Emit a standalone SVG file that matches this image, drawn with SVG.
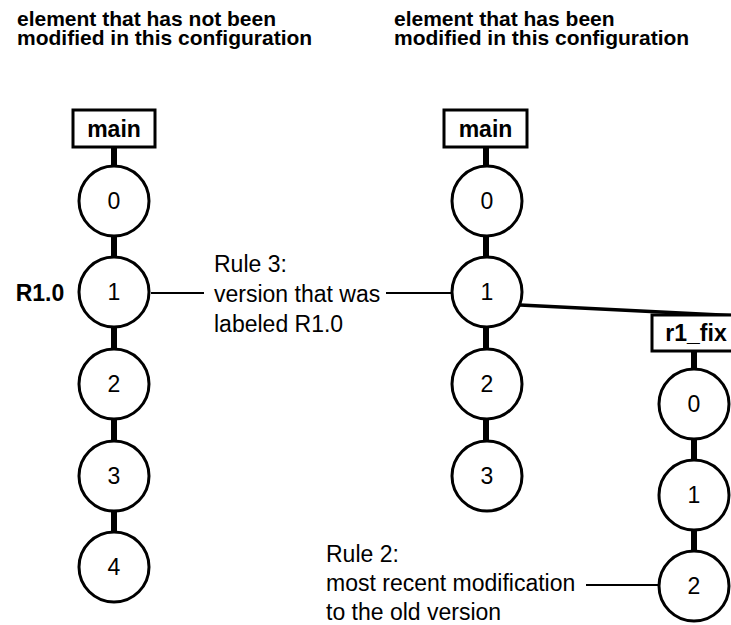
<svg xmlns="http://www.w3.org/2000/svg" width="731" height="625" viewBox="0 0 731 625">
<style>
.hdr{font-family:"Liberation Sans",Arial,sans-serif;font-weight:bold;font-size:21px;fill:#000}
.lbl{font-family:"Liberation Sans",Arial,sans-serif;font-size:23px;fill:#000}
.num{font-family:"Liberation Sans",Arial,sans-serif;font-size:23px;fill:#000;text-anchor:middle}
.bx{font-family:"Liberation Sans",Arial,sans-serif;font-weight:bold;font-size:23px;fill:#000;text-anchor:middle}
.node{fill:#fff;stroke:#000;stroke-width:3}
.stem{stroke:#000;stroke-width:6}
.thin{stroke:#000;stroke-width:2}
</style>
<rect width="731" height="625" fill="#fff"/>
<text class="hdr" x="17" y="26">element that has not been</text>
<text class="hdr" x="17" y="45">modified in this configuration</text>
<text class="hdr" x="394" y="26">element that has been</text>
<text class="hdr" x="394" y="45">modified in this configuration</text>
<g id="connectors">
<line class="stem" x1="114" y1="147" x2="114" y2="567"/>
<line class="stem" x1="486" y1="147" x2="486" y2="476"/>
<line class="stem" x1="694" y1="351" x2="694" y2="586"/>
<line x1="520" y1="305" x2="731" y2="315.5" stroke="#000" stroke-width="3.5"/>
<line class="thin" x1="151" y1="293" x2="204" y2="293"/>
<line class="thin" x1="386" y1="293" x2="452" y2="293"/>
<line class="thin" x1="586" y1="585" x2="659" y2="585"/>
</g>
<g id="left-main"><rect class="node" x="73" y="110" width="82" height="37"/><text class="bx" x="114" y="137">main</text></g>
<g id="left-0"><circle class="node" cx="114" cy="201" r="35"/><text class="num" x="114" y="209">0</text></g>
<g id="left-1"><circle class="node" cx="114" cy="292" r="35"/><text class="num" x="114" y="300">1</text></g>
<g id="left-2"><circle class="node" cx="114" cy="384" r="35"/><text class="num" x="114" y="392">2</text></g>
<g id="left-3"><circle class="node" cx="114" cy="476" r="35"/><text class="num" x="114" y="484">3</text></g>
<g id="left-4"><circle class="node" cx="114" cy="567" r="35"/><text class="num" x="114" y="575">4</text></g>
<g id="r10-label"><text class="bx" x="40" y="301" font-size="25px">R1.0</text></g>
<g id="right-main"><rect class="node" x="444" y="110" width="83" height="37"/><text class="bx" x="485.5" y="137">main</text></g>
<g id="right-0"><circle class="node" cx="487" cy="201" r="35"/><text class="num" x="487" y="209">0</text></g>
<g id="right-1"><circle class="node" cx="487" cy="292" r="35"/><text class="num" x="487" y="300">1</text></g>
<g id="right-2"><circle class="node" cx="487" cy="384" r="35"/><text class="num" x="487" y="392">2</text></g>
<g id="right-3"><circle class="node" cx="487" cy="476" r="35"/><text class="num" x="487" y="484">3</text></g>
<g id="r1fix-box"><rect class="node" x="652" y="315" width="84" height="36"/><text class="bx" x="696" y="341">r1_fix</text></g>
<g id="r1fix-0"><circle class="node" cx="694" cy="404" r="35"/><text class="num" x="694" y="412">0</text></g>
<g id="r1fix-1"><circle class="node" cx="694" cy="495" r="35"/><text class="num" x="694" y="503">1</text></g>
<g id="r1fix-2"><circle class="node" cx="694" cy="586" r="35"/><text class="num" x="694" y="594">2</text></g>
<g id="rule3"><text class="lbl" x="214" y="272">Rule 3:</text><text class="lbl" x="214" y="302">version that was</text><text class="lbl" x="214" y="332">labeled R1.0</text></g>
<g id="rule2"><text class="lbl" x="326" y="562">Rule 2:</text><text class="lbl" x="326" y="591">most recent modification</text><text class="lbl" x="326" y="620">to the old version</text></g>
</svg>
